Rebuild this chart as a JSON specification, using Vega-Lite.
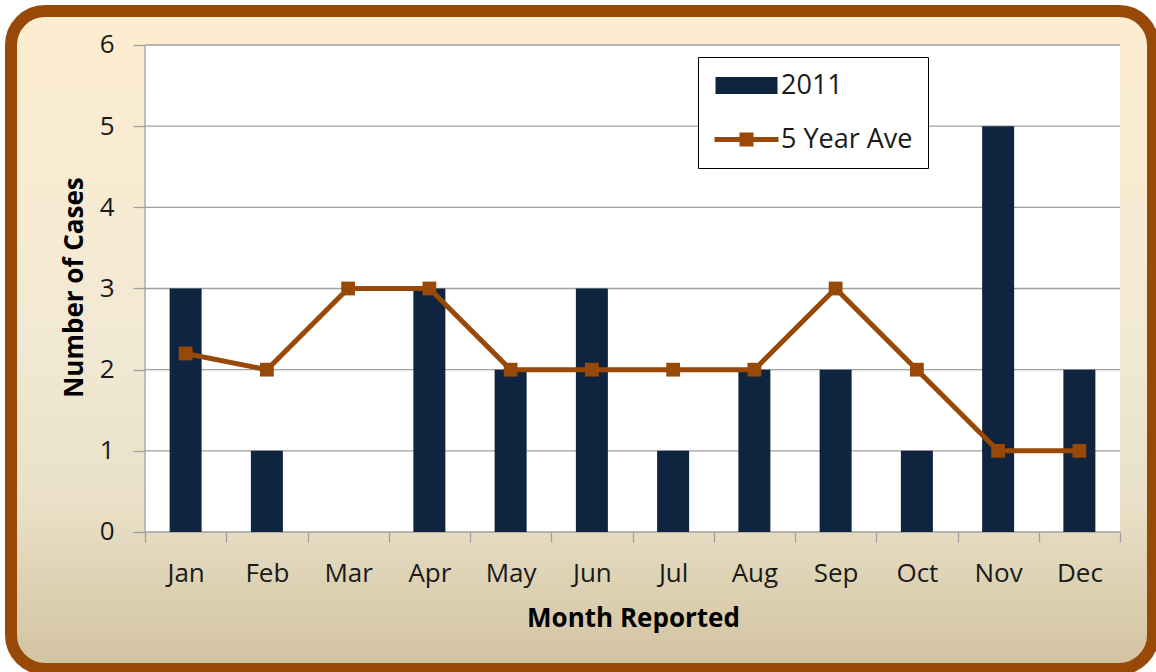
{
  "$schema": "https://vega.github.io/schema/vega-lite/v6.json",
  "width": 1142,
  "height": 658,
  "autosize": {"type": "none"},
  "padding": {"left": 11, "top": 11, "right": 3, "bottom": 3},
  "background": "white",
  "view": {
    "fill": {"gradient": "linear", "x1": 0, "y1": 0, "x2": 0, "y2": 1,
      "stops": [
        {"offset": 0, "color": "#fdedd0"},
        {"offset": 0.5, "color": "#f2e9d4"},
        {"offset": 0.75, "color": "#e9e0c7"},
        {"offset": 1, "color": "#d2c3a0"}
      ]},
    "stroke": "#984807",
    "strokeWidth": 12,
    "cornerRadius": 34
  },
  "config": {
    "font": "Open Sans",
    "axis": {"labelFont": "Open Sans", "titleFont": "Open Sans"},
    "legend": {"labelFont": "Open Sans"}
  },
  "data": {"values": [
    {"m": 1, "month": "Jan", "cases": 3, "ave": 2.2},
    {"m": 2, "month": "Feb", "cases": 1, "ave": 2},
    {"m": 3, "month": "Mar", "cases": 0, "ave": 3},
    {"m": 4, "month": "Apr", "cases": 3, "ave": 3},
    {"m": 5, "month": "May", "cases": 2, "ave": 2},
    {"m": 6, "month": "Jun", "cases": 3, "ave": 2},
    {"m": 7, "month": "Jul", "cases": 1, "ave": 2},
    {"m": 8, "month": "Aug", "cases": 2, "ave": 2},
    {"m": 9, "month": "Sep", "cases": 2, "ave": 3},
    {"m": 10, "month": "Oct", "cases": 1, "ave": 2},
    {"m": 11, "month": "Nov", "cases": 5, "ave": 1},
    {"m": 12, "month": "Dec", "cases": 2, "ave": 1}
  ]},
  "layer": [
    {
      "data": {"values": [{"area": "plot"}]},
      "mark": {"type": "rect", "fill": "white"},
      "encoding": {
        "x": {"datum": 0.5, "type": "quantitative", "scale": {"domain": [-1.14923, 12.90615], "nice": false, "zero": false, "padding": 0}},
        "x2": {"datum": 12.5},
        "y": {"datum": 0, "type": "quantitative", "scale": {"domain": [-1.68789, 6.41889], "nice": false, "zero": false}},
        "y2": {"datum": 6}
      }
    },
    {
      "data": {"values": [{"g": 0}, {"g": 1}, {"g": 2}, {"g": 3}, {"g": 4}, {"g": 5}, {"g": 6}]},
      "mark": {"type": "rule", "color": "#a0a0a0", "strokeWidth": 1.3},
      "encoding": {
        "x": {"datum": 0.5, "type": "quantitative", "scale": {"domain": [-1.14923, 12.90615], "nice": false, "zero": false, "padding": 0}},
        "x2": {"datum": 12.5},
        "y": {"field": "g", "type": "quantitative", "scale": {"domain": [-1.68789, 6.41889], "nice": false, "zero": false}}
      }
    },
    {
      "data": {"values": [{"area": "yaxis"}]},
      "mark": {"type": "rule", "color": "#a0a0a0", "strokeWidth": 1.3},
      "encoding": {
        "x": {"datum": 0.5, "type": "quantitative", "scale": {"domain": [-1.14923, 12.90615], "nice": false, "zero": false, "padding": 0}},
        "y": {"datum": 0, "type": "quantitative", "scale": {"domain": [-1.68789, 6.41889], "nice": false, "zero": false}},
        "y2": {"datum": 6}
      }
    },
    {
      "mark": {"type": "bar", "size": 32},
      "encoding": {
        "x": {"field": "m", "type": "quantitative",
          "scale": {"domain": [-1.14923, 12.90615], "nice": false, "zero": false, "padding": 0},
          "axis": {
            "values": [0.5, 1.5, 2.5, 3.5, 4.5, 5.5, 6.5, 7.5, 8.5, 9.5, 10.5, 11.5, 12.5],
            "offset": -137, "domain": false, "grid": false,
            "tickSize": 10, "tickColor": "#a0a0a0", "tickWidth": 1.3,
            "labelOffset": 40.625,
            "labelExpr": "datum.value > 12 ? '' : ['Jan','Feb','Mar','Apr','May','Jun','Jul','Aug','Sep','Oct','Nov','Dec'][floor(datum.value)]",
            "labelFontSize": 26, "labelColor": "#1a1a1a", "labelPadding": 18,
            "labelOverlap": false, "labelFlush": false, "labelBound": false,
            "title": "Month Reported", "titleFontSize": 26, "titleFontWeight": "bold",
            "titleColor": "#000000", "titlePadding": 19, "titleX": 622
          }
        },
        "y": {"field": "cases", "type": "quantitative",
          "scale": {"domain": [-1.68789, 6.41889], "nice": false, "zero": false},
          "axis": {
            "values": [0, 1, 2, 3, 4, 5, 6],
            "offset": -134, "domain": false, "grid": false,
            "tickSize": 12, "tickColor": "#a0a0a0", "tickWidth": 1.3,
            "labelFontSize": 26, "labelColor": "#1a1a1a", "labelPadding": 19,
            "format": "d",
            "title": "Number of Cases", "titleFontSize": 26, "titleFontWeight": "bold",
            "titleColor": "#000000", "titlePadding": 12, "titleY": 276
          }
        },
        "y2": {"datum": 0},
        "color": {"datum": "2011", "type": "nominal",
          "scale": {"domain": ["2011", "5 Year Ave"], "range": ["#0f243e", "#984807"]},
          "legend": {
            "orient": "none", "legendX": 687, "legendY": 46,
            "title": null, "fillColor": "white", "strokeColor": "#000000",
            "padding": 15, "cornerRadius": 0,
            "labelFontSize": 27, "labelColor": "#1a1a1a", "labelOffset": 21,
            "symbolSize": 400, "rowPadding": 26, "symbolOffset": 20,
            "encode": {
              "symbols": {"update": {
                "shape": {"signal": "datum.value === '2011' ? 'M-3.1,-0.85H3.1V0.85H-3.1Z' : 'M-3.2,-0.25H-0.7V-0.7H0.7V-0.25H3.2V0.25H0.7V0.7H-0.7V0.25H-3.2Z'"},
                "size": {"value": 400},
                "fill": {"signal": "datum.value === '2011' ? '#0f243e' : '#984807'"},
                "stroke": {"value": "transparent"},
                "strokeWidth": {"value": 0},
                "opacity": {"value": 1},
                "fillOpacity": {"value": 1}
              }}
            }
          }
        }
      }
    },
    {
      "mark": {"type": "line", "strokeWidth": 5},
      "encoding": {
        "x": {"field": "m", "type": "quantitative", "scale": {"domain": [-1.14923, 12.90615], "nice": false, "zero": false, "padding": 0}},
        "y": {"field": "ave", "type": "quantitative", "scale": {"domain": [-1.68789, 6.41889], "nice": false, "zero": false}},
        "color": {"datum": "5 Year Ave", "type": "nominal"}
      }
    },
    {
      "mark": {"type": "point", "shape": "square", "filled": true, "size": 190, "opacity": 1, "color": "#984807"},
      "encoding": {
        "x": {"field": "m", "type": "quantitative", "scale": {"domain": [-1.14923, 12.90615], "nice": false, "zero": false, "padding": 0}},
        "y": {"field": "ave", "type": "quantitative", "scale": {"domain": [-1.68789, 6.41889], "nice": false, "zero": false}}
      }
    }
  ]
}
